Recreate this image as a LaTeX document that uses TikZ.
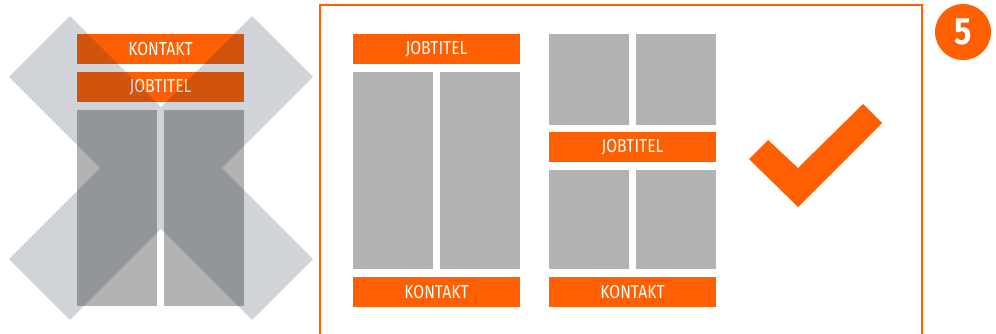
\documentclass[tikz,border=0pt]{standalone}
\usepackage{fontspec}
\newfontfamily\lbl[FakeStretch=0.83]{Fira Sans}
\newfontfamily\numfont[FakeStretch=0.85]{Fira Sans Bold}
\definecolor{orng}{RGB}{255,95,0}
\definecolor{colgray}{RGB}{178,178,178}
\definecolor{xcol}{RGB}{20,40,65}
\begin{document}
\begin{tikzpicture}[x=1pt,y=-1pt,
  obar/.style={fill=orng, draw=none, inner sep=0pt, minimum width=167pt, minimum height=30pt,
    text=white, font=\lbl\fontsize{18.9}{20}\selectfont},
  gbox/.style={fill=colgray, draw=none, inner sep=0pt, minimum width=80pt},
  xmark/.style={fill=xcol, fill opacity=0.2, draw=none},
  frame/.style={draw=orng, line width=2pt},
  tick/.style={fill=orng, draw=none}]
\useasboundingbox (0,0) rectangle (996,333);
% left (wrong) layout
\node[obar] (lk) at (160.5,49) {KONTAKT};
\node[obar] (lj) at (160.5,87) {JOBTITEL};
\node[gbox, minimum height=196pt] (lc1) at (117,208) {};
\node[gbox, minimum height=196pt] (lc2) at (204,208) {};
% the X
\fill[xmark] (69.8,16) -- (161,107.2) -- (252.2,16) -- (313,76.8) -- (221.8,168) -- (313,259.2)
  -- (252.2,320) -- (161,228.8) -- (69.8,320) -- (9,259.2) -- (100.2,168) -- (9,76.8) -- cycle;
% frame
\coordinate (fa) at (320,336);
\coordinate (fb) at (320,5);
\coordinate (fc) at (921.5,5);
\coordinate (fd) at (921.5,336);
\draw[frame] (fa) -- (fb) -- (fc) -- (fd);
% right layout 1
\node[obar] (r1j) at (436.5,49) {JOBTITEL};
\node[gbox, minimum height=197pt] (r1c1) at (393,170.5) {};
\node[gbox, minimum height=197pt] (r1c2) at (480,170.5) {};
\node[obar] (r1k) at (436.5,291.5) {KONTAKT};
% right layout 2
\node[gbox, minimum height=91pt] (r2a) at (589,79.5) {};
\node[gbox, minimum height=91pt] (r2b) at (676,79.5) {};
\node[obar] (r2j) at (632.5,147.2) {JOBTITEL};
\node[gbox, minimum height=99pt] (r2c) at (589,219.5) {};
\node[gbox, minimum height=99pt] (r2d) at (676,219.5) {};
\node[obar] (r2k) at (632.5,291.5) {KONTAKT};
% check mark
\fill[tick] (749,159) -- (768,140) -- (798,168) -- (863,104) -- (882,123) -- (798,207) -- cycle;
% number badge
\node[circle, fill=orng, minimum size=56pt, inner sep=0pt, text=white,
  font=\numfont\fontsize{38}{40}\selectfont] (num) at (963,32) {5};
\end{tikzpicture}
\end{document}
